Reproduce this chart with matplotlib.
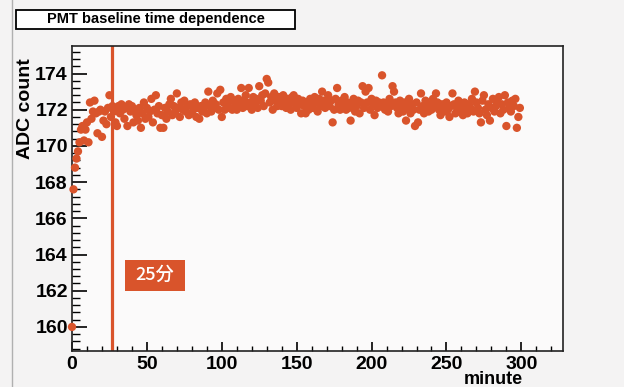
import matplotlib
matplotlib.use("Agg")
import matplotlib.pyplot as plt
from matplotlib.ticker import MultipleLocator
from matplotlib.patches import Rectangle

# ---- data ----
minutes = list(range(300))
adc = [
    160.0, 167.6, 168.8, 169.3, 169.7, 170.2, 170.9, 171.1, 170.3, 170.9,
    171.3, 170.2, 172.4, 171.5, 171.9, 172.5, 171.8, 170.7, 171.9, 172.0,
    170.5, 171.4, 171.9, 171.2, 172.1, 172.8, 171.6, 172.2, 171.9, 171.3,
    171.1, 172.2, 171.8, 172.3, 172.0, 171.5, 172.1, 171.1, 172.3, 171.9,
    172.2, 171.3, 172.0, 171.7, 171.4, 172.1, 171.0, 171.8, 172.4, 171.5,
    172.1, 171.6, 171.9, 172.6, 171.3, 172.0, 172.8, 171.8, 172.2, 171.0,
    171.7, 171.0, 172.1, 171.5, 171.9, 172.3, 172.6, 171.7, 172.2, 171.9,
    172.9, 172.1, 171.6, 172.4, 172.0, 172.5, 171.9, 172.2, 171.7, 172.3,
    171.8, 172.0, 172.4, 171.6, 172.1, 171.5, 172.2, 171.9, 172.1, 172.4,
    171.8, 173.0, 172.2, 171.9, 172.5, 172.1, 172.3, 172.9, 172.0, 173.1,
    171.6, 172.4, 172.0, 172.6, 172.3, 172.1, 172.7, 172.0, 172.5, 172.2,
    172.0, 172.6, 172.3, 173.2, 172.1, 172.5, 172.8, 172.2, 173.2, 172.4,
    172.0, 172.7, 172.3, 172.6, 172.1, 173.3, 172.5, 172.8, 172.2, 172.9,
    173.7, 173.5, 172.4, 172.7, 172.0, 172.9, 172.5, 172.2, 172.7, 172.4,
    172.2, 172.8, 172.5, 172.1, 172.6, 172.3, 172.0, 172.7, 172.8, 172.4,
    172.1, 172.6, 172.3, 171.8, 172.5, 172.2, 171.8, 172.4, 172.0, 172.6,
    172.3, 172.1, 172.7, 172.4, 171.9, 172.6, 172.2, 173.0, 172.5, 172.1,
    172.4, 172.8, 172.2, 172.5, 171.3, 172.0, 172.6, 173.2, 172.3, 172.0,
    172.5, 172.2, 172.7, 172.0, 172.4, 172.1, 171.4, 172.3, 172.6, 171.9,
    172.2, 172.5, 171.8, 172.4, 173.3, 172.1, 173.0, 172.4, 173.2, 172.0,
    172.6, 172.3, 171.7, 172.5, 172.1, 172.4, 172.2, 173.9, 172.4, 172.0,
    172.3, 171.9, 172.6, 172.2, 173.3, 173.0, 172.4, 172.1, 171.8, 172.5,
    172.2, 171.9, 172.4, 171.4, 172.1, 172.6, 171.8, 172.3, 172.0, 171.1,
    172.4, 171.3, 172.0, 172.9, 172.2, 171.8, 172.5, 172.1, 171.9, 172.3,
    172.0, 172.6, 172.2, 172.9, 172.4, 172.0, 171.7, 172.3, 172.1, 171.9,
    172.4, 172.0, 171.6, 172.2, 172.9, 172.3, 171.8, 172.1, 172.5, 171.9,
    172.2, 171.7, 172.4, 172.0, 171.8, 172.3, 172.1, 172.6, 171.9, 173.0,
    172.4, 172.1, 171.8, 171.3, 172.5, 172.8, 172.0, 171.7, 172.3, 171.4,
    172.1, 172.6, 171.9, 172.2, 172.4, 172.7, 171.8, 172.3, 172.0, 172.8,
    171.1, 172.4, 172.1, 171.9, 172.5, 172.2, 172.6, 171.0, 171.6, 172.1,
]
marker_minute = 26.5
marker_label = "25分"
title = "PMT baseline time dependence"
xlabel = "minute"
ylabel = "ADC count"
xticks = [0, 50, 100, 150, 200, 250, 300]
yticks = [160, 162, 164, 166, 168, 170, 172, 174]

ORANGE = "#d9542b"
FONT = "Liberation Sans"

W, H = 624, 387
fig = plt.figure(figsize=(W / 100, H / 100), dpi=100, facecolor="#f4f3f3")

# axes box in pixel coordinates
x0, x1, y0, y1 = 72, 563, 46, 351
ax = fig.add_axes([x0 / W, 1 - y1 / H, (x1 - x0) / W, (y1 - y0) / H])
ax.set_facecolor("#fbfafa")

ax.scatter(minutes, adc, s=36, color=ORANGE, edgecolors="none", zorder=3, clip_on=False)
ax.axvline(marker_minute, color=ORANGE, lw=2.3, zorder=2)

ax.set_xlim(0, 327.8)
ax.set_ylim(158.67, 175.52)
ax.set_xticks(xticks)
ax.set_yticks(yticks)
ax.xaxis.set_minor_locator(MultipleLocator(10))
ax.yaxis.set_minor_locator(MultipleLocator(0.4))
ax.tick_params(axis="x", which="major", direction="in", length=6.5, width=1.2, pad=3.5)
ax.tick_params(axis="x", which="minor", direction="in", length=3.5, width=1.0)
ax.tick_params(axis="y", which="major", direction="in", length=11, width=1.2, pad=3)
ax.tick_params(axis="y", which="minor", direction="in", length=5.5, width=1.0)
ax.tick_params(top=False, right=False, which="both")
for lab in ax.get_xticklabels() + ax.get_yticklabels():
    lab.set_fontfamily(FONT)
    lab.set_fontweight("bold")
    lab.set_fontsize(14)
for sp in ax.spines.values():
    sp.set_linewidth(1.2)
    sp.set_color("#222222")

# axis titles (ROOT style positions)
fig.text(25 / W, 1 - 58 / H, ylabel, rotation=90, ha="center", va="top",
         fontfamily=FONT, fontweight="bold", fontsize=14)
fig.text(523 / W, 1 - 384 / H, xlabel, ha="right", va="baseline",
         fontfamily=FONT, fontweight="bold", fontsize=13)

# title box
fig.patches.append(Rectangle((16 / W, 1 - 29 / H), (295 - 16) / W, 19 / H,
                             transform=fig.transFigure, facecolor="white",
                             edgecolor="black", lw=1.3))
fig.text(156 / W, 1 - 19.5 / H, title, ha="center", va="center",
         fontfamily=FONT, fontweight="bold", fontsize=10.5)

# marker label box
fig.patches.append(Rectangle((125 / W, 1 - 291 / H), 60 / W, 31 / H,
                             transform=fig.transFigure, facecolor=ORANGE,
                             edgecolor="none"))
fig.text(155 / W, 1 - 275 / H, marker_label, ha="center", va="center", color="white",
         fontfamily=["Noto Sans CJK JP", "DejaVu Sans"], fontweight="medium",
         fontsize=13)

# page border line on the left
fig.add_artist(plt.Line2D([12 / W, 12 / W], [0, 1], color="#b0b0b0", lw=1.0,
                          transform=fig.transFigure))

fig.savefig("out.png", dpi=100, facecolor=fig.get_facecolor())
